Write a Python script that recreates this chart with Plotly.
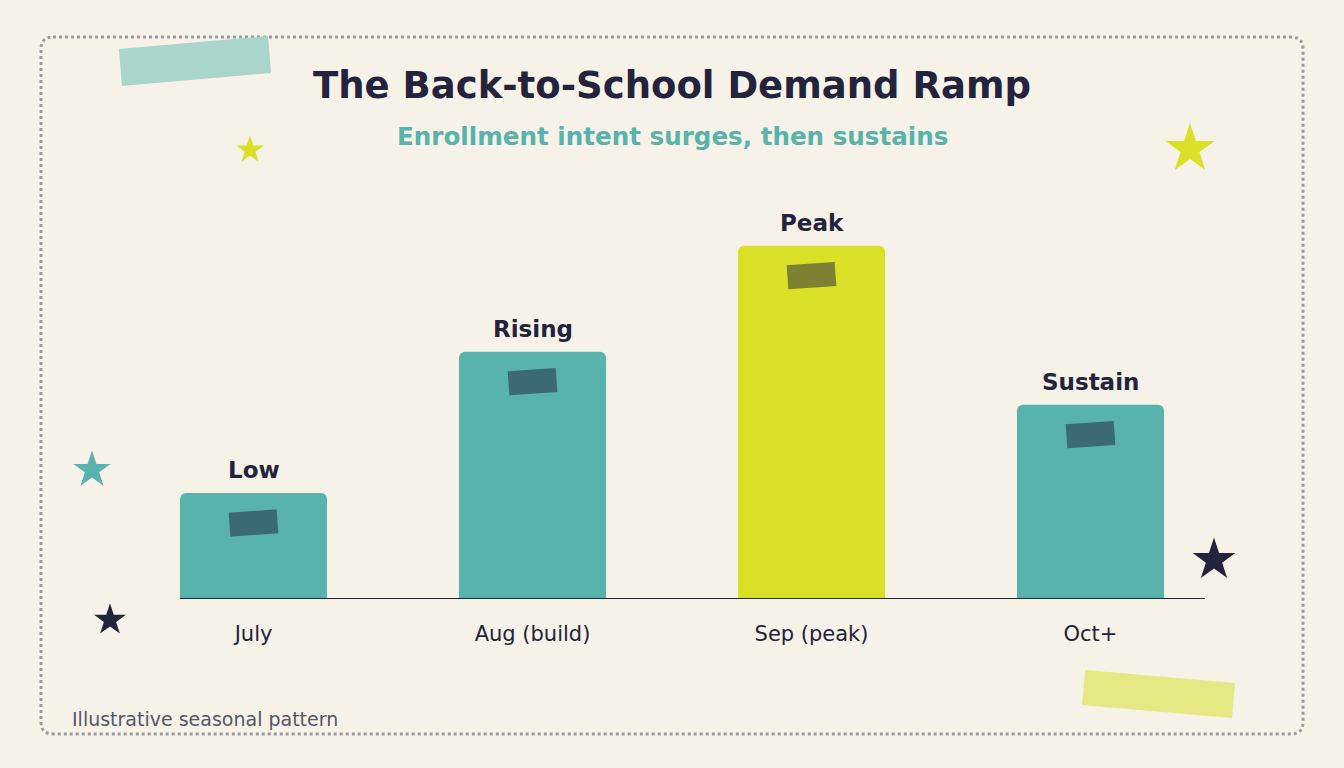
import math
import plotly.graph_objects as go

# ---------------- data ----------------
categories = ["July", "Aug (build)", "Sep (peak)", "Oct+"]
values = [30, 70, 100, 55]
bar_labels = ["Low", "Rising", "Peak", "Sustain"]
bar_colors = ["#57b3ab", "#57b3ab", "#d9e026", "#57b3ab"]

title_text = "The Back-to-School Demand Ramp"
subtitle_text = "Enrollment intent surges, then sustains"
footnote_text = "Illustrative seasonal pattern"

# ---------------- style ----------------
W, H = 1344, 768
BG = "#f6f2e7"
NAVY = "#23233d"
TEAL = "#57b3ab"
YELLOW = "#d9e026"
FONT = "'DejaVu Sans', sans-serif"

BAR_W = 0.527
X_RANGE = [-0.5, 3.5]
Y_RANGE = [0, 120]
PLOT_L, PLOT_R = 114, 1230     # pixel extents of the main plotting area
PLOT_T, PLOT_B = 175, 599
PX_X = (PLOT_R - PLOT_L) / (X_RANGE[1] - X_RANGE[0])
PX_Y = (PLOT_B - PLOT_T) / (Y_RANGE[1] - Y_RANGE[0])

fig = go.Figure()

fig.add_trace(go.Bar(
    x=list(range(len(categories))), y=values, width=BAR_W,
    marker=dict(color=bar_colors, cornerradius=6, line=dict(width=0)),
    xaxis="x", yaxis="y", hoverinfo="skip", showlegend=False,
))

# decorative stars in pixel coordinates (overlay axes)
star_x = [250, 1190, 92, 110, 1214]
star_y = [150, 149, 470, 620, 560]
star_s = [21, 37, 28, 24, 32]
star_c = [YELLOW, YELLOW, TEAL, NAVY, NAVY]
fig.add_trace(go.Scatter(
    x=star_x, y=star_y, mode="markers",
    marker=dict(symbol="star", size=star_s, color=star_c, opacity=1, line=dict(width=0)),
    opacity=1,
    xaxis="x2", yaxis="y2", hoverinfo="skip", showlegend=False,
))

shapes = []

def rot_rect(cx, cy, w, h, ang_deg):
    a = math.radians(ang_deg)
    pts = []
    for x, y in [(-w / 2, -h / 2), (w / 2, -h / 2), (w / 2, h / 2), (-w / 2, h / 2)]:
        pts.append((cx + x * math.cos(a) - y * math.sin(a), cy + x * math.sin(a) + y * math.cos(a)))
    return pts

def path_from(pts):
    return "M " + " L ".join(f"{x:.3f},{y:.3f}" for x, y in pts) + " Z"

# tape pieces on top of each bar (data coordinates)
for i, v in enumerate(values):
    pts = []
    for dx, dy in rot_rect(0, 0, 48, 24, -4):
        pts.append((i + dx / PX_X, v - 30 / PX_Y - dy / PX_Y))
    shapes.append(dict(type="path", path=path_from(pts), xref="x", yref="y",
                       fillcolor="rgba(34,34,59,0.5)", line=dict(width=0), layer="above"))

# baseline
shapes.append(dict(type="line", xref="x", yref="y", x0=-BAR_W / 2, x1=3.41, y0=0, y1=0,
                   line=dict(color=NAVY, width=2), layer="above"))

# dotted rounded border (pixel coords)
x0, y0, x1, y1, r = 41, 37, 1303, 734, 12
border = (f"M {x0+r},{y0} L {x1-r},{y0} Q {x1},{y0} {x1},{y0+r} L {x1},{y1-r} "
          f"Q {x1},{y1} {x1-r},{y1} L {x0+r},{y1} Q {x0},{y1} {x0},{y1-r} "
          f"L {x0},{y0+r} Q {x0},{y0} {x0+r},{y0} Z")
shapes.append(dict(type="path", path=border, xref="x2", yref="y2",
                   line=dict(color="#9b99a0", width=3, dash="dot"), layer="below"))

# washi tapes (pixel coords)
shapes.append(dict(type="path", xref="x2", yref="y2", layer="above",
                   path=path_from([(119, 49), (268, 36), (271, 73), (122, 86)]),
                   fillcolor="#a9d5cc", line=dict(width=0)))
shapes.append(dict(type="path", xref="x2", yref="y2", layer="above",
                   path=path_from([(1085, 670), (1235, 683), (1232, 718), (1082, 705)]),
                   fillcolor="#e6e883", line=dict(width=0)))

annotations = []
for i, (v, lab) in enumerate(zip(values, bar_labels)):
    annotations.append(dict(x=i, y=v, xref="x", yref="y", text=f"<b>{lab}</b>",
                            showarrow=False, yanchor="bottom", yshift=8,
                            font=dict(family=FONT, size=23, color=NAVY)))

annotations.append(dict(x=672, y=85, xref="x2", yref="y2", text=f"<b>{title_text}</b>",
                        showarrow=False, font=dict(family=FONT, size=37, color=NAVY)))
annotations.append(dict(x=672.5, y=136, xref="x2", yref="y2", text=f"<b>{subtitle_text}</b>",
                        showarrow=False, font=dict(family=FONT, size=24.6, color=TEAL)))
annotations.append(dict(x=70, y=719, xref="x2", yref="y2", text=footnote_text, xanchor="left",
                        showarrow=False, font=dict(family=FONT, size=19, color="#55556b")))

fig.update_layout(
    width=W, height=H, autosize=False,
    margin=dict(l=0, r=0, t=0, b=0, pad=0),
    paper_bgcolor=BG, plot_bgcolor="rgba(0,0,0,0)",
    showlegend=False,
    xaxis=dict(domain=[PLOT_L / W, PLOT_R / W], range=X_RANGE, anchor="y",
               tickmode="array", tickvals=list(range(len(categories))), ticktext=categories,
               showgrid=False, zeroline=False, showline=False, ticks="",
               ticklabelstandoff=20,
               tickfont=dict(family=FONT, size=21, color=NAVY), fixedrange=True),
    yaxis=dict(domain=[(H - PLOT_B) / H, (H - PLOT_T) / H], range=Y_RANGE, anchor="x",
               showgrid=False, zeroline=False, showline=False, showticklabels=False,
               ticks="", fixedrange=True),
    xaxis2=dict(domain=[0, 1], range=[0, W], anchor="y2", visible=False, fixedrange=True),
    yaxis2=dict(domain=[0, 1], range=[H, 0], anchor="x2", visible=False, fixedrange=True),
    shapes=shapes,
    annotations=annotations,
)

fig.write_html("out.html")
